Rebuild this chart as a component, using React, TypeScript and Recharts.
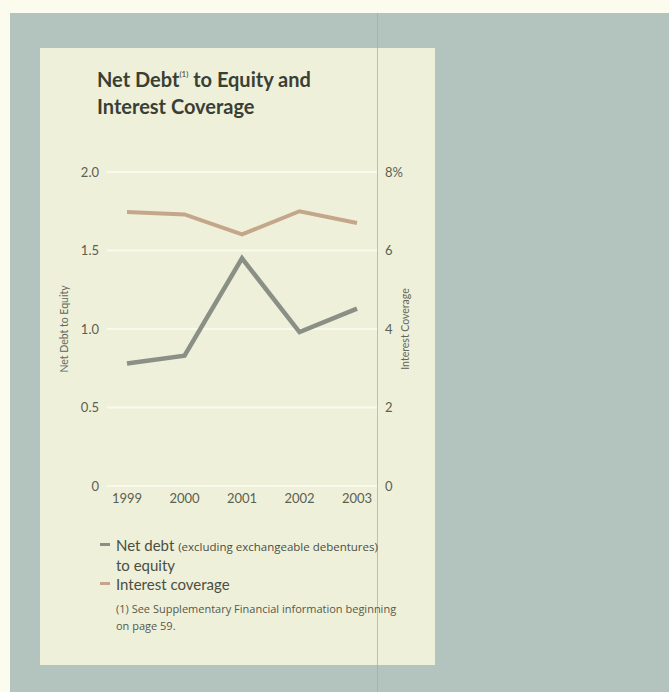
import { LineChart, Line, XAxis, YAxis, CartesianGrid } from "recharts";

const years = ["1999", "2000", "2001", "2002", "2003"];
const netDebtToEquity = [0.78, 0.83, 1.45, 0.98, 1.13];
const interestCoverage = [6.98, 6.92, 6.41, 7.0, 6.7];

const leftTicks = [0, 0.5, 1, 1.5, 2];
const rightTicks = [0, 2, 4, 6, 8];

const data = years.map((year, i) => ({
  year,
  netDebt: netDebtToEquity[i],
  coverage: interestCoverage[i],
}));

const FONT = "Lato, 'Open Sans', sans-serif";
const WIDE = "'Open Sans', Lato, sans-serif";
const TICK = { fontSize: 13, fill: "#5b6050", fontFamily: FONT };
const DEBT_COLOR = "#8b9087";
const COVER_COLOR = "#c4a78b";

export default function App() {
  return (
    <div
      style={{
        position: "absolute",
        left: 0,
        top: 0,
        width: 669,
        height: 692,
        background: "#fbfbee",
        fontFamily: FONT,
        overflow: "hidden",
      }}
    >
      {/* grey page */}
      <div style={{ position: "absolute", left: 10, top: 13, right: 0, bottom: 0, background: "#b3c3bd" }} />
      {/* cream panel */}
      <div style={{ position: "absolute", left: 40, top: 48, width: 395, height: 617, background: "#eff0da" }} />
      {/* faint red fold line */}
      <div style={{ position: "absolute", left: 377, top: 13, width: 1, bottom: 0, background: "#ee8f7c", opacity: 0.7 }} />

      <div
        style={{
          position: "absolute",
          left: 97,
          top: 61,
          fontSize: 20,
          fontWeight: 700,
          lineHeight: "27px",
          color: "#3a3f34",
        }}
      >
        Net Debt<sup style={{ fontSize: 8, fontWeight: 400, verticalAlign: "10px" }}>(1)</sup> to Equity and
        <br />
        Interest Coverage
      </div>

      <div style={{ position: "absolute", left: 40, top: 150 }}>
        <LineChart width={395} height={380} data={data} margin={{ top: 22, right: 0, left: 0, bottom: 14 }}>
          <CartesianGrid yAxisId="left" vertical={false} stroke="#fafaec" strokeWidth={2} />
          <XAxis
            dataKey="year"
            axisLine={false}
            tickLine={false}
            tickSize={0}
            tickMargin={8}
            tick={TICK}
            padding={{ left: 20, right: 20 }}
            height={30}
          />
          <YAxis
            yAxisId="left"
            domain={[0, 2]}
            ticks={leftTicks}
            axisLine={false}
            tickLine={false}
            tickSize={0}
            tickMargin={8}
            width={67}
            tick={TICK}
            tickFormatter={(v: number) => (v === 0 ? "0" : v.toFixed(1))}
            label={{
              value: "Net Debt to Equity",
              angle: -90,
              position: "insideLeft",
              offset: 24,
              style: { textAnchor: "middle", fontSize: 10.5, fill: "#62675a", fontFamily: FONT },
            }}
          />
          <YAxis
            yAxisId="right"
            orientation="right"
            domain={[0, 8]}
            ticks={rightTicks}
            axisLine={false}
            tickLine={false}
            tickSize={0}
            tickMargin={8}
            width={58}
            tick={TICK}
            tickFormatter={(v: number) => (v === 8 ? "8%" : String(v))}
            label={{
              value: "Interest Coverage",
              angle: -90,
              position: "insideRight",
              offset: 30,
              style: { textAnchor: "middle", fontSize: 10.5, fill: "#62675a", fontFamily: FONT },
            }}
          />
          <Line
            yAxisId="right"
            type="linear"
            dataKey="coverage"
            stroke={COVER_COLOR}
            strokeWidth={4}
            strokeLinejoin="miter"
            dot={false}
            isAnimationActive={false}
          />
          <Line
            yAxisId="left"
            type="linear"
            dataKey="netDebt"
            stroke={DEBT_COLOR}
            strokeWidth={4.5}
            strokeLinejoin="miter"
            dot={false}
            isAnimationActive={false}
          />
        </LineChart>
      </div>

      {/* legend */}
      <div style={{ position: "absolute", left: 100, top: 543, width: 10, height: 3, background: DEBT_COLOR }} />
      <div style={{ position: "absolute", left: 116, top: 536, color: "#4a4f42", fontSize: 15, lineHeight: "19px" }}>
        Net debt <span style={{ fontSize: 11.5, fontFamily: WIDE }}>(excluding exchangeable debentures)</span>
        <br />
        to equity
      </div>
      <div style={{ position: "absolute", left: 100, top: 582, width: 10, height: 3, background: COVER_COLOR }} />
      <div style={{ position: "absolute", left: 116, top: 575, color: "#4a4f42", fontSize: 15, lineHeight: "19px" }}>
        Interest coverage
      </div>
      <div
        style={{
          position: "absolute",
          left: 116,
          top: 600,
          width: 310,
          color: "#555a4b",
          fontSize: 11,
          fontFamily: WIDE,
          lineHeight: "17px",
          whiteSpace: "nowrap",
        }}
      >
        (1) See Supplementary Financial information beginning
        <br />
        on page 59.
      </div>
    </div>
  );
}
